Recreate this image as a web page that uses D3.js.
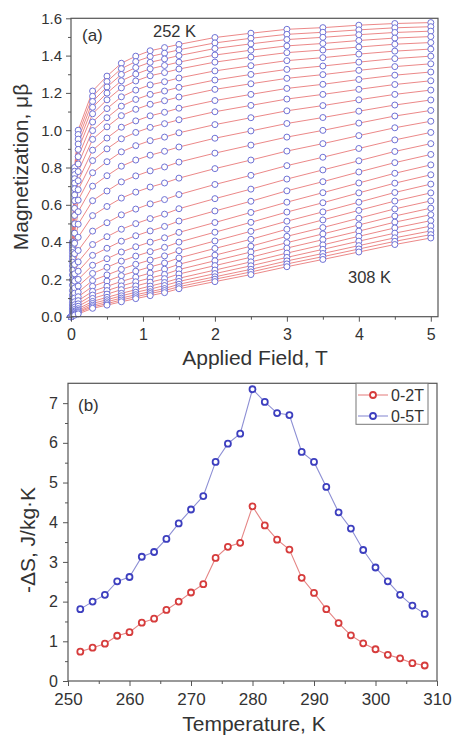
<!DOCTYPE html>
<html><head><meta charset="utf-8">
<script src="https://cdn.jsdelivr.net/npm/d3@7"></script>
<style>
html,body{margin:0;padding:0;background:#fff;}
svg{display:block;font-family:"Liberation Sans",Arial,sans-serif;}
</style></head>
<body>
<svg id="chart" width="455" height="735"></svg>
<script>
// ---------- Panel (a): magnetization isotherms ----------
const fields = [0, 0.02, 0.05, 0.1, 0.3, 0.5, 0.7, 0.9, 1.1, 1.3, 1.5, 2, 2.5, 3, 3.5, 4, 4.5, 5];
const isothermTemps = [252,254,256,258,260,262,264,266,268,270,272,274,276,278,280,282,284,286,288,290,292,294,296,298,300,302,304,306,308];
const magnetization = [
 [0,0.401,0.800,1.000,1.210,1.290,1.359,1.397,1.426,1.443,1.460,1.497,1.520,1.541,1.550,1.563,1.572,1.577],
 [0,0.391,0.780,0.977,1.182,1.261,1.330,1.368,1.395,1.413,1.431,1.468,1.493,1.514,1.525,1.538,1.549,1.555],
 [0,0.381,0.762,0.952,1.154,1.232,1.299,1.336,1.364,1.382,1.400,1.438,1.463,1.486,1.498,1.512,1.524,1.531],
 [0,0.370,0.740,0.926,1.123,1.199,1.265,1.301,1.329,1.347,1.365,1.403,1.429,1.452,1.465,1.481,1.494,1.502],
 [0,0.359,0.716,0.897,1.088,1.163,1.227,1.264,1.292,1.309,1.328,1.365,1.392,1.416,1.430,1.446,1.461,1.470],
 [0,0.344,0.686,0.858,1.044,1.116,1.179,1.215,1.243,1.260,1.280,1.318,1.346,1.373,1.389,1.408,1.424,1.435],
 [0,0.327,0.653,0.819,0.998,1.067,1.129,1.165,1.192,1.210,1.230,1.269,1.299,1.326,1.344,1.365,1.384,1.397],
 [0,0.311,0.622,0.778,0.951,1.018,1.078,1.112,1.139,1.158,1.178,1.219,1.249,1.278,1.298,1.321,1.341,1.356],
 [0,0.292,0.581,0.729,0.893,0.958,1.016,1.050,1.077,1.096,1.118,1.159,1.192,1.224,1.246,1.272,1.295,1.312],
 [0,0.272,0.543,0.681,0.837,0.900,0.954,0.988,1.015,1.035,1.056,1.099,1.133,1.167,1.192,1.219,1.245,1.265],
 [0,0.249,0.498,0.625,0.772,0.831,0.884,0.917,0.944,0.963,0.986,1.030,1.067,1.104,1.132,1.163,1.192,1.215],
 [0,0.224,0.448,0.563,0.700,0.756,0.807,0.840,0.866,0.887,0.910,0.957,0.996,1.036,1.068,1.102,1.135,1.162],
 [0,0.197,0.394,0.496,0.622,0.674,0.723,0.755,0.782,0.803,0.829,0.877,0.920,0.963,0.999,1.038,1.076,1.106],
 [0,0.169,0.338,0.426,0.542,0.591,0.636,0.668,0.695,0.717,0.743,0.794,0.840,0.888,0.928,0.971,1.013,1.048],
 [0,0.140,0.280,0.355,0.459,0.504,0.546,0.577,0.605,0.628,0.655,0.709,0.758,0.810,0.855,0.902,0.948,0.988],
 [0,0.115,0.230,0.294,0.387,0.429,0.469,0.499,0.526,0.550,0.579,0.633,0.684,0.738,0.787,0.836,0.886,0.928],
 [0,0.096,0.191,0.244,0.329,0.367,0.405,0.434,0.460,0.484,0.513,0.567,0.619,0.675,0.724,0.776,0.826,0.870],
 [0,0.077,0.154,0.200,0.276,0.311,0.347,0.375,0.400,0.423,0.452,0.505,0.559,0.614,0.665,0.717,0.769,0.814],
 [0,0.063,0.126,0.164,0.232,0.265,0.298,0.325,0.349,0.372,0.400,0.453,0.506,0.561,0.611,0.664,0.716,0.761],
 [0,0.050,0.100,0.132,0.194,0.224,0.254,0.281,0.304,0.326,0.354,0.406,0.458,0.512,0.562,0.614,0.666,0.711],
 [0,0.040,0.080,0.107,0.163,0.191,0.220,0.244,0.267,0.288,0.315,0.366,0.415,0.469,0.519,0.570,0.620,0.664],
 [0,0.032,0.064,0.086,0.136,0.163,0.189,0.212,0.234,0.255,0.281,0.330,0.378,0.431,0.478,0.528,0.578,0.621],
 [0,0.026,0.051,0.069,0.116,0.140,0.165,0.187,0.207,0.227,0.253,0.300,0.347,0.397,0.444,0.492,0.540,0.582],
 [0,0.019,0.039,0.056,0.098,0.121,0.145,0.165,0.185,0.204,0.229,0.274,0.319,0.368,0.413,0.459,0.507,0.547],
 [0,0.014,0.030,0.043,0.082,0.104,0.125,0.145,0.164,0.183,0.206,0.250,0.294,0.341,0.385,0.431,0.476,0.515],
 [0,0.011,0.024,0.034,0.071,0.091,0.112,0.131,0.148,0.167,0.189,0.231,0.273,0.318,0.361,0.405,0.448,0.486],
 [0,0.009,0.017,0.027,0.061,0.080,0.100,0.118,0.134,0.151,0.174,0.214,0.254,0.299,0.339,0.381,0.423,0.460],
 [0,0.006,0.013,0.022,0.053,0.070,0.090,0.107,0.124,0.140,0.161,0.201,0.240,0.283,0.322,0.363,0.404,0.440],
 [0,0.004,0.008,0.015,0.045,0.062,0.080,0.097,0.113,0.129,0.150,0.188,0.226,0.268,0.307,0.347,0.387,0.422]
];
const fieldTicks = [0,1,2,3,4,5];
const fieldMinorTicks = [0.5,1.5,2.5,3.5,4.5];
const magTicks = [0,0.2,0.4,0.6,0.8,1.0,1.2,1.4,1.6];
const magMinorTicks = [0.1,0.3,0.5,0.7,0.9,1.1,1.3,1.5];

// ---------- Panel (b): entropy change ----------
const temperatures = [252,254,256,258,260,262,264,266,268,270,272,274,276,278,280,282,284,286,288,290,292,294,296,298,300,302,304,306,308];
const dS_0_2T = [0.74,0.84,0.94,1.14,1.23,1.47,1.57,1.79,2.00,2.23,2.44,3.10,3.38,3.48,4.40,3.92,3.56,3.31,2.60,2.22,1.81,1.46,1.15,0.95,0.80,0.66,0.57,0.45,0.39];
const dS_0_5T = [1.81,2.00,2.17,2.51,2.62,3.13,3.25,3.58,3.97,4.32,4.66,5.52,5.98,6.23,7.35,7.03,6.75,6.70,5.77,5.52,4.89,4.25,3.84,3.30,2.86,2.51,2.17,1.90,1.69];
const seriesNames = ["0-2T","0-5T"];
const tempTicks = [250,260,270,280,290,300,310];
const tempMinorTicks = [255,265,275,285,295,305];
const dsTicks = [0,1,2,3,4,5,6,7];
const dsMinorTicks = [0.5,1.5,2.5,3.5,4.5,5.5,6.5];

const svg = d3.select("#chart");
svg.append("rect").attr("width",455).attr("height",735).attr("fill","#fff");
const axisColor = "#555", textColor = "#333";

function styleAxis(g){
  g.select(".domain").remove();
  g.selectAll("line").attr("stroke",axisColor).attr("stroke-width",1);
  g.selectAll("text").attr("fill",textColor);
}

// ===== Panel (a) =====
const xA = d3.scaleLinear().domain([0,5.1]).range([71,438]);
const yA = d3.scaleLinear().domain([0,1.6]).range([316.7,18.3]);

const gA = svg.append("g");
const lineA = d3.line().x((d,i)=>xA(fields[i])).y(d=>yA(d));
gA.append("g").selectAll("path").data(magnetization).join("path")
  .attr("d",lineA).attr("fill","none").attr("stroke","#e97a7a").attr("stroke-width",0.9);
magnetization.forEach(row=>{
  gA.append("g").selectAll("circle").data(row).join("circle")
    .attr("cx",(d,i)=>xA(fields[i])).attr("cy",d=>yA(d)).attr("r",3)
    .attr("fill","#fff").attr("stroke","#6f72d6").attr("stroke-width",1);
});

// frame
gA.append("rect").attr("x",71).attr("y",18.3).attr("width",438-71).attr("height",316.7-18.3)
  .attr("fill","none").attr("stroke",axisColor).attr("stroke-width",1.2);

const axAx = svg.append("g").attr("transform","translate(0,316.7)")
  .call(d3.axisBottom(xA).tickValues(fieldTicks).tickSize(5).tickPadding(7).tickFormat(d3.format("d")));
axAx.attr("font-size",16).attr("font-family",null);
styleAxis(axAx);
const axAxm = svg.append("g").attr("transform","translate(0,316.7)")
  .call(d3.axisBottom(xA).tickValues(fieldMinorTicks).tickSize(3).tickFormat(""));
styleAxis(axAxm);
const axAy = svg.append("g").attr("transform","translate(71,0)")
  .call(d3.axisLeft(yA).tickValues(magTicks).tickSize(5).tickPadding(4).tickFormat(d3.format(".1f")));
axAy.attr("font-size",15).attr("font-family",null);
styleAxis(axAy);
const axAym = svg.append("g").attr("transform","translate(71,0)")
  .call(d3.axisLeft(yA).tickValues(magMinorTicks).tickSize(3).tickFormat(""));
styleAxis(axAym);

svg.append("text").attr("x",255).attr("y",365).attr("text-anchor","middle")
  .attr("font-size",21).attr("fill",textColor).text("Applied Field, T");
svg.append("text").attr("transform","translate(28,167) rotate(-90)").attr("text-anchor","middle")
  .attr("font-size",21).attr("fill",textColor).text("Magnetization, μβ");
svg.append("text").attr("x",82).attr("y",41).attr("font-size",17).attr("fill",textColor).text("(a)");
svg.append("text").attr("x",153).attr("y",37).attr("font-size",16.5).attr("fill",textColor).text("252 K");
svg.append("text").attr("x",348).attr("y",283).attr("font-size",16.5).attr("fill",textColor).text("308 K");

// ===== Panel (b) =====
const xB = d3.scaleLinear().domain([250,310]).range([68,437]);
const yB = d3.scaleLinear().domain([0,7.5]).range([681,383.3]);
const colors = [{line:"#e58585",mark:"#d63c3c"},{line:"#8d8fd4",mark:"#3d3fbf"}];
const seriesB = [dS_0_2T, dS_0_5T];
const lineB = d3.line().x((d,i)=>xB(temperatures[i])).y(d=>yB(d));
const gB = svg.append("g");
seriesB.forEach((s,k)=>{
  gB.append("path").datum(s).attr("d",lineB).attr("fill","none")
    .attr("stroke",colors[k].line).attr("stroke-width",1.1);
  gB.append("g").selectAll("circle").data(s).join("circle")
    .attr("cx",(d,i)=>xB(temperatures[i])).attr("cy",d=>yB(d)).attr("r",3)
    .attr("fill","#fff").attr("stroke",colors[k].mark).attr("stroke-width",1.8);
});
gB.append("rect").attr("x",68).attr("y",383.3).attr("width",437-68).attr("height",681-383.3)
  .attr("fill","none").attr("stroke",axisColor).attr("stroke-width",1.2);

const axBx = svg.append("g").attr("transform","translate(0,681)")
  .call(d3.axisBottom(xB).tickValues(tempTicks).tickSize(5).tickPadding(7).tickFormat(d3.format("d")));
axBx.attr("font-size",17).attr("font-family",null);
styleAxis(axBx);
const axBxm = svg.append("g").attr("transform","translate(0,681)")
  .call(d3.axisBottom(xB).tickValues(tempMinorTicks).tickSize(3).tickFormat(""));
styleAxis(axBxm);
const axBy = svg.append("g").attr("transform","translate(68,0)")
  .call(d3.axisLeft(yB).tickValues(dsTicks).tickSize(5).tickPadding(5).tickFormat(d3.format("d")));
axBy.attr("font-size",16).attr("font-family",null);
styleAxis(axBy);
const axBym = svg.append("g").attr("transform","translate(68,0)")
  .call(d3.axisLeft(yB).tickValues(dsMinorTicks).tickSize(3).tickFormat(""));
styleAxis(axBym);

svg.append("text").attr("x",254).attr("y",731).attr("text-anchor","middle")
  .attr("font-size",21).attr("fill",textColor).text("Temperature, K");
svg.append("text").attr("transform","translate(35,540) rotate(-90)").attr("text-anchor","middle")
  .attr("font-size",21).attr("fill",textColor).text("-ΔS, J/kg·K");
svg.append("text").attr("x",78).attr("y",411).attr("font-size",17).attr("fill",textColor).text("(b)");

// legend
const lg = svg.append("g");
lg.append("rect").attr("x",356).attr("y",383.3).attr("width",72).attr("height",41)
  .attr("fill","#fff").attr("stroke","#777").attr("stroke-width",1);
seriesNames.forEach((name,k)=>{
  const yy = 395 + k*21;
  lg.append("line").attr("x1",358).attr("x2",388).attr("y1",yy).attr("y2",yy)
    .attr("stroke",colors[k].line).attr("stroke-width",1.1);
  lg.append("circle").attr("cx",373).attr("cy",yy).attr("r",3)
    .attr("fill","#fff").attr("stroke",colors[k].mark).attr("stroke-width",1.8);
  lg.append("text").attr("x",391).attr("y",yy+5.5).attr("font-size",16).attr("fill",textColor).text(name);
});
</script>
</body></html>
